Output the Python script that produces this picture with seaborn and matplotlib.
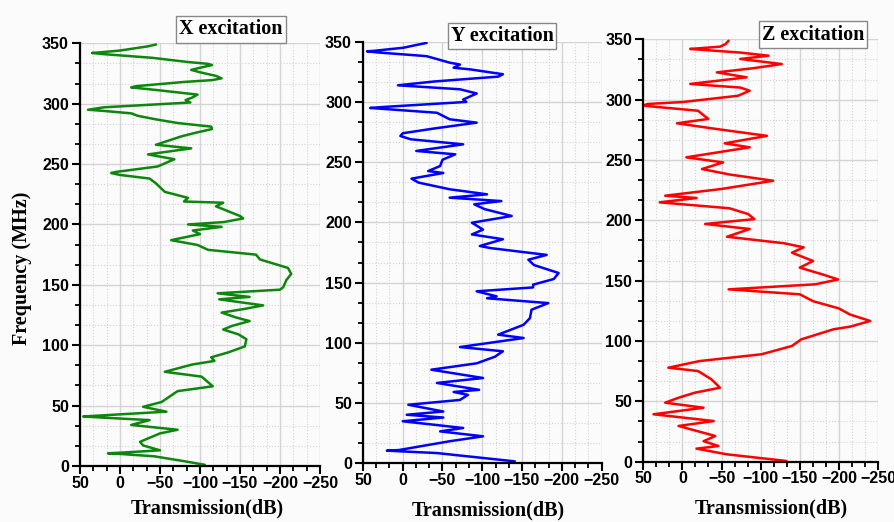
import matplotlib
matplotlib.use("Agg")
import matplotlib.pyplot as plt
from matplotlib.ticker import AutoMinorLocator
import seaborn as sns

# Frequency (MHz) / transmission (dB) samples for each excitation direction
freq_x = [349, 347.5, 346, 344, 342.5, 342, 341, 338, 334.5, 333, 332, 330.5, 328, 326, 323, 321, 319.5,
          318, 314.5, 313.5, 311, 307.5, 305, 303, 301, 297, 295, 294,
          292, 290, 287, 284, 281, 279, 276, 273, 266, 263, 258, 254, 248, 243.5, 242.6, 241, 238, 234, 227,
          222, 219, 218, 215, 207, 205, 202, 200, 198, 195, 192, 187, 183, 179, 175, 171, 167, 164, 159, 154,
          148, 146, 143, 140, 138, 133, 130, 127, 123, 120, 116, 113, 109, 105, 99, 94, 90, 87, 84, 78, 74, 66, 62,
          53, 49, 45, 42, 41, 40, 38, 34, 30, 27, 20, 17, 13, 11, 10.5, 10, 8, 4, 1]
trans_x = [-45, -35, -20, 0, 25, 35, 20, -40, -85, -110, -115, -105, -89, -100, -120, -127, -115,
           -80, -20, -14, -50, -97, -90, -82, -88, 20, 40, 20,
           -14, -22, -45, -72, -114, -115, -95, -77, -45, -89, -35, -68, -47, 5, 11, 0, -37, -45, -56,
           -85, -80, -129, -120, -150, -154, -130, -85, -127, -91, -100, -64, -97, -110, -170, -175, -195, -210, -214, -208,
           -204, -200, -122, -162, -124, -179, -155, -127, -145, -162, -140, -129, -148, -158, -156, -135, -114, -118, -90, -56, -102, -116, -72,
           -52, -29, -58, 20, 46, 20, -37, -14, -72, -50, -25, -29, -50, 0, 15, 0, -43, -80, -106]

freq_y = [349, 347, 345, 342.5, 342, 341, 338, 332.6, 331, 328.4, 327, 323, 321, 317, 313.8, 310.5, 307, 302, 300,
          296, 295, 294, 291, 285.6, 282.8, 278, 274, 271.7, 269, 264.8, 259.3, 256.5, 252, 246.8, 242.6, 241, 236.3, 233,
          227.5, 223.3, 220.5, 217.7, 215, 211, 205.3, 199.7, 194, 190, 186, 180.4, 178.7,
          173, 169, 164.6, 158, 153, 148.3, 146, 142.8, 138.6, 137, 133, 127.5, 120.5, 115, 106.8,
          104, 96.5, 93, 88.5, 83, 77.7, 70.8, 66.7, 61, 59.2, 56.8, 52.6, 48.6, 43, 40.3, 38,
          34.9, 29.3, 26.5, 22.4, 18.3, 11, 10.5, 10, 8.5, 1.6]
trans_y = [-30, -15, -1, 35, 45, 30, -30, -59, -72, -64, -85, -126, -120, -40, 6, -72, -93, -76, -80,
           20, 41, 20, -43, -59, -93, -40, 0, 3, -10, -76, -17, -66, -50, -47, -32, -51, -11, -20,
           -59, -106, -59, -124, -90, -103, -137, -87, -101, -87, -126, -97, -110,
           -181, -158, -165, -196, -190, -164, -164, -93, -118, -106, -183, -162, -160, -152, -120,
           -152, -72, -126, -116, -93, -36, -101, -43, -96, -64, -82, -72, -7, -51, -5, -51,
           0, -76, -47, -101, -59, 5, 20, 5, -43, -141]

freq_z = [348.8, 346, 343.9, 342.5, 342, 339, 336.4, 333.7, 329.5, 326, 322.6, 318.5, 313, 310, 307.4, 303.2,
          298, 296.4, 295, 290.8, 284, 280.4, 276, 270, 263.8, 260.5, 252.2, 248, 242.5, 238, 232.8, 226, 220.4, 218.5,
          214.9, 210, 205.2, 201, 197, 192.8, 186.4, 181, 177.6, 173.2, 166.3, 160.8, 155, 151, 147, 142.8, 138.7,
          133, 127, 122, 116.6, 112, 109.7, 101.4, 95.9, 89, 83.4, 77.9, 75.1, 68.3, 61.3, 57.2, 53,
          48.9, 44.7, 39.3, 33.7, 29.6, 21.3, 17, 13, 10.8, 6.1, 0.6]
trans_z = [-59, -55, -48, -20, -10, -74, -110, -74, -127, -90, -44, -82, -10, -74, -86, -71,
           0, 45, 50, -20, -33, 7, -40, -108, -54, -86, -5, -52, -25, -60, -116, -50, 22, -18,
           29, -60, -84, -92, -29, -86, -57, -130, -155, -140, -167, -150, -180, -199, -170, -59, -150,
           -167, -200, -214, -240, -215, -193, -152, -140, -101, -22, 18, -20, -37, -48, -16, 5,
           22, -27, 37, -40, 5, -42, -27, -46, -18, -57, -133]

panel_titles = ["X excitation", "Y excitation", "Z excitation"]
line_colors = ["#0c870c", "#0000ff", "#ff0000"]
x_ticks = [50, 0, -50, -100, -150, -200, -250]
y_ticks = [0, 50, 100, 150, 200, 250, 300, 350]

sns.set_theme(style="ticks")
plt.rcParams["font.family"] = ["Liberation Sans", "DejaVu Sans"]
plt.rcParams["font.weight"] = "bold"

W, H = 895, 522
fig = plt.figure(figsize=(W / 100, H / 100), dpi=100, facecolor="#fbfbfb")

# axes rectangles in pixels: (x of T=50, x of T=-250, y of F=0, y of F=350)
rects = [(80, 320, 466, 43.3), (363, 601.5, 463.3, 41.7), (643.3, 878, 461.7, 39.3)]
series = [(trans_x, freq_x), (trans_y, freq_y), (trans_z, freq_z)]
title_pos = [(231, 29.5), (502, 36), (813, 34.5)]
xlabel_pos = [(207, 508), (488, 510), (771, 508)]

serif = ["Liberation Serif", "DejaVu Serif"]

for i, ((x0, x1, yb, yt), (tv, fv)) in enumerate(zip(rects, series)):
    ax = fig.add_axes([x0 / W, 1 - yb / H, (x1 - x0) / W, (yb - yt) / H])
    ax.set_facecolor("#fbfbfb")
    sns.lineplot(x=tv, y=fv, sort=False, estimator=None, color=line_colors[i],
                 linewidth=1.8, ax=ax)
    for ln in ax.lines:
        ln.set_solid_joinstyle("round")
        ln.set_solid_capstyle("round")
    ax.set_xlim(50, -250)
    ax.set_ylim(0, 350)
    ax.set_xticks(x_ticks)
    ax.set_yticks(y_ticks)
    ax.xaxis.set_minor_locator(AutoMinorLocator(3))
    ax.yaxis.set_minor_locator(AutoMinorLocator(3))
    ax.grid(True, which="major", color="#d4d4d4", linewidth=1.0, linestyle="-")
    ax.grid(True, which="minor", color="#d4d4d4", linewidth=0.8, linestyle=":")
    ax.set_axisbelow(True)
    for s in ["top", "right"]:
        ax.spines[s].set_visible(False)
    for s in ["left", "bottom"]:
        ax.spines[s].set_color("black")
        ax.spines[s].set_linewidth(1.6)
    ax.tick_params(which="major", direction="out", length=6, width=1.5,
                   labelsize=11.5, colors="black")
    ax.tick_params(axis="x", which="major", pad=1)
    ax.tick_params(axis="y", which="major", pad=2)
    ax.tick_params(which="minor", direction="out", length=3.5, width=1.3, colors="black")
    for lab in ax.get_xticklabels() + ax.get_yticklabels():
        lab.set_fontweight("bold")
    ax.set_xlabel("")
    ax.set_ylabel("")

    tx, ty = title_pos[i]
    fig.text(tx / W, 1 - ty / H, panel_titles[i], ha="center", va="center",
             fontsize=14.5, fontweight="bold", family=serif, color="black",
             bbox=dict(boxstyle="square,pad=0.15", facecolor="white",
                       edgecolor="#888888", linewidth=1.0))
    lx, ly = xlabel_pos[i]
    fig.text(lx / W, 1 - ly / H, "Transmission(dB)", ha="center", va="center",
             fontsize=14.5, fontweight="bold", family=serif, color="black")

fig.text(22 / W, 1 - 268 / H, "Frequency (MHz)", rotation=90, ha="center", va="center",
         fontsize=14.5, fontweight="bold", family=serif, color="black")

fig.savefig("out.png", dpi=100, facecolor=fig.get_facecolor())
